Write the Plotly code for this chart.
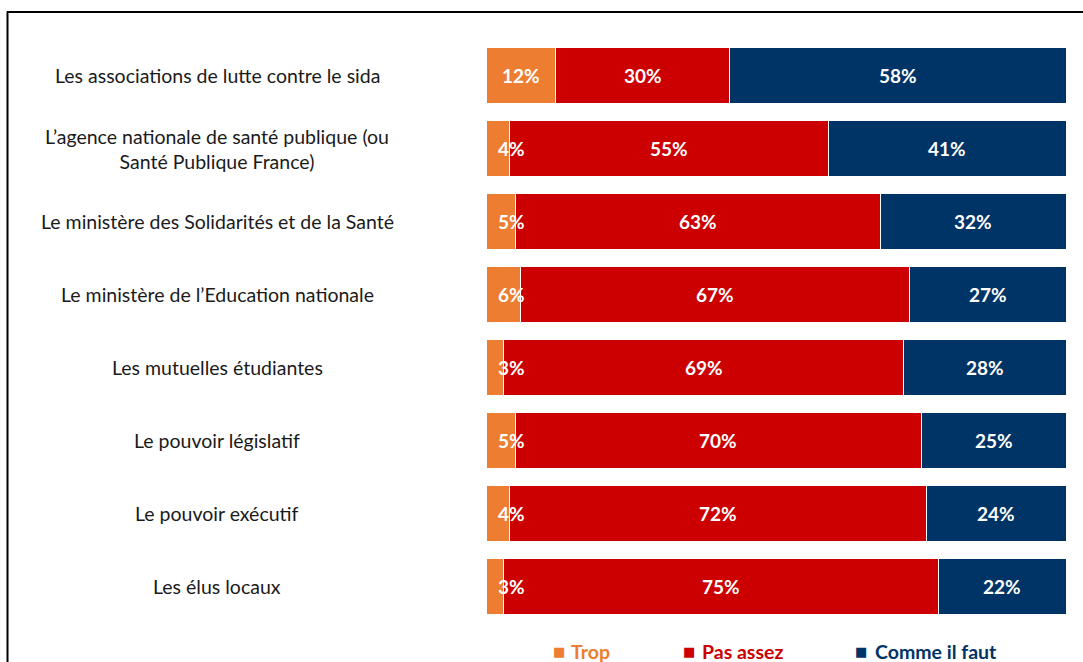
import plotly.graph_objects as go

categories = [
    "Les associations de lutte contre le sida",
    "L’agence nationale de santé publique (ou<br>Santé Publique France)",
    "Le ministère des Solidarités et de la Santé",
    "Le ministère de l’Education nationale",
    "Les mutuelles étudiantes",
    "Le pouvoir législatif",
    "Le pouvoir exécutif",
    "Les élus locaux",
]
trop = [12, 4, 5, 6, 3, 5, 4, 3]
pas_assez = [30, 55, 63, 67, 69, 70, 72, 75]
comme_il_faut = [58, 41, 32, 27, 28, 25, 24, 22]

series_names = ["Trop", "Pas assez", "Comme il faut"]
series_colors = ["#ED7D31", "#CC0000", "#003366"]
series_values = [trop, pas_assez, comme_il_faut]

W, H = 1083, 662
ML, MR, MT, MB = 486, 17, 38.5, 38.5
PW = W - ML - MR
PH = H - MT - MB

FONT = "Lato"


def px(xp):
    return (xp - ML) / PW


def py(yp):
    return (H - MB - yp) / PH


fig = go.Figure()
for name, color, vals in zip(series_names, series_colors, series_values):
    fig.add_trace(go.Bar(
        y=categories, x=vals, name=name,
        orientation="h", marker=dict(color=color, line=dict(color="white", width=1)),
        hoverinfo="x+y", showlegend=False,
    ))

annotations = []
# value labels
for i, cat in enumerate(categories):
    base = 0
    for k, vals in enumerate(series_values):
        v = vals[i]
        xc = base + v / 2
        if k == 0:
            xc = max(xc, 4.4)
        annotations.append(dict(
            x=xc, y=cat, xref="x", yref="y", text=f"<b>{v}%</b>", showarrow=False,
            font=dict(family=FONT, size=19, color="white"), xanchor="center", yanchor="middle",
        ))
        base += v
# category labels
for cat in categories:
    annotations.append(dict(
        x=px(217), y=cat, xref="paper", yref="y", text=cat, showarrow=False,
        font=dict(family=FONT, size=19.5, color="#1a1a1a"), xanchor="center", yanchor="middle",
        align="center",
    ))
# legend
legend_marker_x = [558.5, 688.5, 861]
legend_text_x = [569, 700, 873]
for name, color, mx, tx in zip(series_names, series_colors, legend_marker_x, legend_text_x):
    annotations.append(dict(
        x=px(mx), y=py(652), xref="paper", yref="paper", text="■", showarrow=False,
        font=dict(family="DejaVu Sans", size=13, color=color), xanchor="center", yanchor="middle",
    ))
    annotations.append(dict(
        x=px(tx), y=py(652), xref="paper", yref="paper", text=f"<b>{name}</b>", showarrow=False,
        font=dict(family=FONT, size=19.5, color=color), xanchor="left", yanchor="middle",
    ))

shapes = [
    dict(type="line", xref="paper", yref="paper", x0=px(7), x1=px(1090), y0=py(11.5), y1=py(11.5),
         line=dict(color="black", width=2)),
    dict(type="line", xref="paper", yref="paper", x0=px(7.5), x1=px(7.5), y0=py(11), y1=py(670),
         line=dict(color="black", width=2)),
]

fig.update_layout(
    width=W, height=H,
    margin=dict(l=ML, r=MR, t=MT, b=MB, autoexpand=False),
    barmode="stack", bargap=0.234,
    plot_bgcolor="white", paper_bgcolor="white",
    xaxis=dict(range=[0, 100], visible=False, fixedrange=True),
    yaxis=dict(autorange="reversed", showticklabels=False, showgrid=False, zeroline=False,
               categoryorder="array", categoryarray=categories),
    showlegend=False,
    annotations=annotations,
    shapes=shapes,
    font=dict(family=FONT),
)

fig.write_html(
    "out.html",
    config={"displayModeBar": False},
    post_script="document.body.style.margin='0';document.body.style.overflow='hidden';",
)
